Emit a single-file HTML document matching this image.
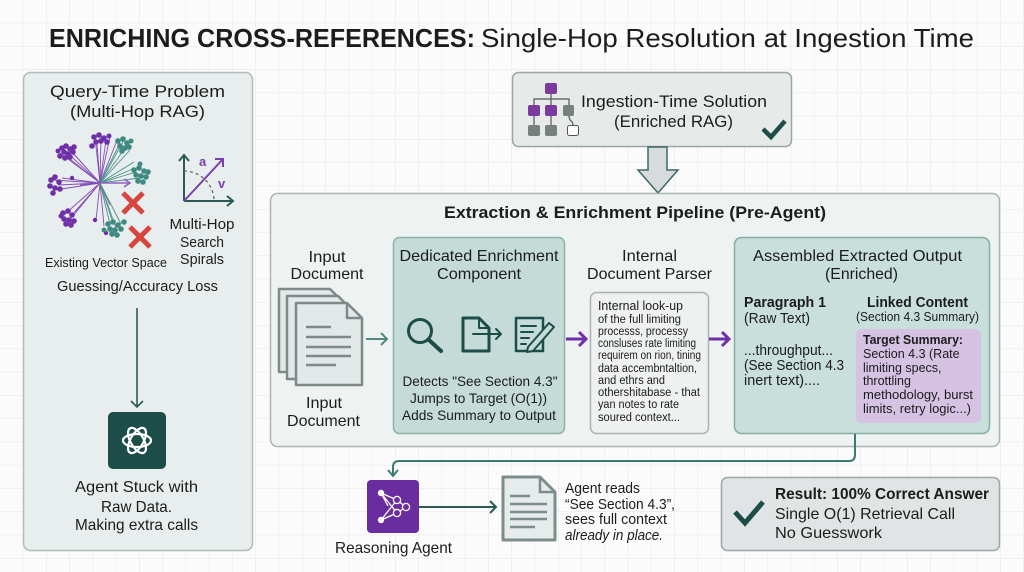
<!DOCTYPE html>
<html><head><meta charset="utf-8"><style>
html,body{margin:0;padding:0;background:#fbfbfb;}
svg{display:block;}
text{font-family:"Liberation Sans",Arial,sans-serif;fill:#1c1c1c;}
</style></head><body>
<svg width="1024" height="572" viewBox="0 0 1024 572" xmlns="http://www.w3.org/2000/svg">
<defs>
<pattern id="grid" width="23.27" height="23.27" patternUnits="userSpaceOnUse">
<path d="M23.27 0 V23.27 M0 23.27 H23.27" fill="none" stroke="#e6e6e6" stroke-width="1"/>
</pattern>
</defs>
<rect width="1024" height="572" fill="#fbfbfb"/>
<rect width="1024" height="572" fill="url(#grid)"/>

<!-- Title -->
<text x="49" y="47" font-size="26" font-weight="bold" textLength="426" lengthAdjust="spacingAndGlyphs">ENRICHING CROSS-REFERENCES:</text>
<text x="481" y="47" font-size="26" textLength="493" lengthAdjust="spacingAndGlyphs">Single-Hop Resolution at Ingestion Time</text>

<!-- LEFT PANEL -->
<rect x="23.5" y="72.5" width="229" height="478" rx="7" fill="#e8eded" stroke="#b3bcbb" stroke-width="1.5"/>
<text x="137.5" y="97" font-size="17" text-anchor="middle" textLength="175" lengthAdjust="spacingAndGlyphs">Query-Time Problem</text>
<text x="137.5" y="117" font-size="17" text-anchor="middle" textLength="135" lengthAdjust="spacingAndGlyphs">(Multi-Hop RAG)</text>

<!-- vector space lines -->
<g stroke-width="0.9" opacity="0.9">
<g stroke="#7a3fb0">
<line x1="100" y1="183" x2="62" y2="148"/><line x1="100" y1="183" x2="70" y2="150"/><line x1="100" y1="183" x2="66" y2="156"/><line x1="100" y1="183" x2="74" y2="154"/><line x1="100" y1="183" x2="60" y2="153"/>
<line x1="100" y1="183" x2="95" y2="137"/><line x1="100" y1="183" x2="101" y2="136"/><line x1="100" y1="183" x2="106" y2="140"/><line x1="100" y1="183" x2="97" y2="144"/><line x1="100" y1="183" x2="110" y2="137"/>
<line x1="100" y1="183" x2="52" y2="180"/><line x1="100" y1="183" x2="58" y2="185"/><line x1="100" y1="183" x2="55" y2="190"/><line x1="100" y1="183" x2="62" y2="178"/>
<line x1="100" y1="183" x2="65" y2="214"/><line x1="100" y1="183" x2="71" y2="216"/><line x1="100" y1="183" x2="68" y2="222"/><line x1="100" y1="183" x2="75" y2="212"/>
<line x1="100" y1="183" x2="110" y2="205"/><line x1="100" y1="183" x2="96" y2="220"/><line x1="100" y1="183" x2="80" y2="185"/>
<line x1="100" y1="183" x2="104" y2="226"/><line x1="100" y1="183" x2="118" y2="138"/>
</g>
<g stroke="#3f8a80">
<line x1="100" y1="183" x2="120" y2="143"/><line x1="100" y1="183" x2="126" y2="147"/><line x1="100" y1="183" x2="124" y2="140"/><line x1="100" y1="183" x2="130" y2="150"/>
<line x1="100" y1="183" x2="136" y2="172"/><line x1="100" y1="183" x2="140" y2="178"/><line x1="100" y1="183" x2="135" y2="168"/><line x1="100" y1="183" x2="134" y2="162"/>
<line x1="100" y1="183" x2="110" y2="224"/><line x1="100" y1="183" x2="116" y2="228"/><line x1="100" y1="183" x2="112" y2="220"/><line x1="100" y1="183" x2="121" y2="224"/>
</g>
<line x1="100" y1="183" x2="129" y2="183" stroke="#8a4fc0" stroke-width="1.5"/>
<path d="M124 179 L130 183 L124 187" fill="none" stroke="#8a4fc0" stroke-width="1.5"/>
</g>
<g fill="#6e2fa8">
<circle cx="62" cy="148" r="2.8"/><circle cx="66" cy="146" r="2.8"/><circle cx="70" cy="149" r="2.8"/><circle cx="64" cy="152" r="2.8"/><circle cx="68" cy="154" r="2.8"/><circle cx="73" cy="152" r="2.8"/><circle cx="60" cy="156" r="2.8"/><circle cx="65" cy="158" r="2.8"/><circle cx="70" cy="157" r="2.8"/><circle cx="74" cy="147" r="2.8"/><circle cx="58" cy="151" r="2.5"/>
<circle cx="94" cy="137" r="2.8"/><circle cx="99" cy="135" r="2.8"/><circle cx="104" cy="138" r="2.8"/><circle cx="96" cy="142" r="2.8"/><circle cx="101" cy="141" r="2.8"/><circle cx="107" cy="142" r="2.8"/><circle cx="92" cy="146" r="2.8"/><circle cx="109" cy="136" r="2.5"/>
<circle cx="51" cy="180" r="2.8"/><circle cx="55" cy="177" r="2.8"/><circle cx="59" cy="182" r="2.8"/><circle cx="50" cy="186" r="2.8"/><circle cx="55" cy="188" r="2.8"/><circle cx="60" cy="189" r="2.8"/><circle cx="53" cy="193" r="2.8"/><circle cx="72" cy="178" r="2.2"/>
<circle cx="63" cy="213" r="2.8"/><circle cx="68" cy="211" r="2.8"/><circle cx="72" cy="215" r="2.8"/><circle cx="64" cy="219" r="2.8"/><circle cx="69" cy="220" r="2.8"/><circle cx="74" cy="221" r="2.8"/><circle cx="66" cy="224" r="2.8"/><circle cx="71" cy="225" r="2.8"/><circle cx="61" cy="216" r="2.5"/>
<circle cx="95" cy="220" r="2.2"/><circle cx="106" cy="233" r="2.2"/>
</g>
<g fill="#3f8a80">
<circle cx="118" cy="141" r="2.8"/><circle cx="123" cy="139" r="2.8"/><circle cx="127" cy="143" r="2.8"/><circle cx="120" cy="146" r="2.8"/><circle cx="125" cy="148" r="2.8"/><circle cx="129" cy="147" r="2.8"/><circle cx="122" cy="151" r="2.8"/><circle cx="131" cy="141" r="2.5"/>
<circle cx="134" cy="170" r="2.8"/><circle cx="139" cy="168" r="2.8"/><circle cx="144" cy="171" r="2.8"/><circle cx="136" cy="175" r="2.8"/><circle cx="141" cy="176" r="2.8"/><circle cx="146" cy="177" r="2.8"/><circle cx="138" cy="181" r="2.8"/><circle cx="143" cy="182" r="2.8"/><circle cx="148" cy="172" r="2.8"/><circle cx="140" cy="164" r="2.5"/>
<circle cx="108" cy="224" r="2.8"/><circle cx="113" cy="222" r="2.8"/><circle cx="118" cy="225" r="2.8"/><circle cx="110" cy="229" r="2.8"/><circle cx="115" cy="230" r="2.8"/><circle cx="121" cy="229" r="2.8"/><circle cx="112" cy="234" r="2.8"/><circle cx="117" cy="235" r="2.8"/><circle cx="124" cy="222" r="2.8"/><circle cx="104" cy="230" r="2.5"/>
</g>
<g stroke="#d6463f" stroke-width="5" stroke-linecap="butt">
<path d="M123 193 L143 213 M143 193 L123 213"/>
<path d="M130 227 L150 247 M150 227 L130 247"/>
</g>
<!-- axis -->
<g fill="none" stroke="#2a5a56" stroke-width="2">
<path d="M184 201 V156 M179 161 L184 155 L189 161"/>
<path d="M184 201 H232 M227 196 L233 201 L227 206"/>
<path d="M184 171 A30 30 0 0 1 214 201" stroke-dasharray="3 3" stroke="#666" stroke-width="1.3"/>
</g>
<path d="M184 201 L223 159 M215 159 L223 159 L223 167" fill="none" stroke="#7a3fb0" stroke-width="2"/>
<text x="199" y="166" font-size="13" font-weight="bold" style="fill:#7a3fb0">a</text>
<text x="218" y="188" font-size="13" font-weight="bold" style="fill:#7a3fb0">v</text>

<text x="106" y="267" font-size="12.5" text-anchor="middle" textLength="122" lengthAdjust="spacingAndGlyphs">Existing Vector Space</text>
<text x="202" y="229" font-size="15" text-anchor="middle" textLength="65" lengthAdjust="spacingAndGlyphs">Multi-Hop</text>
<text x="202" y="247" font-size="15" text-anchor="middle" textLength="44" lengthAdjust="spacingAndGlyphs">Search</text>
<text x="202" y="264" font-size="15" text-anchor="middle" textLength="44" lengthAdjust="spacingAndGlyphs">Spirals</text>
<text x="137.5" y="291" font-size="15" text-anchor="middle" textLength="161" lengthAdjust="spacingAndGlyphs">Guessing/Accuracy Loss</text>

<path d="M137 308 V407 M131 401 L137 407 L143 401" fill="none" stroke="#2a5a56" stroke-width="1.6"/>
<rect x="108" y="412" width="58" height="57" rx="5" fill="#1d4d48"/>
<g fill="none" stroke="#ffffff" stroke-width="2.2">
<ellipse cx="137" cy="440.5" rx="14" ry="6.5"/>
<ellipse cx="137" cy="440.5" rx="14" ry="6.5" transform="rotate(60 137 440.5)"/>
<ellipse cx="137" cy="440.5" rx="14" ry="6.5" transform="rotate(120 137 440.5)"/>
</g>
<text x="136.5" y="492" font-size="16" text-anchor="middle" textLength="123" lengthAdjust="spacingAndGlyphs">Agent Stuck with</text>
<text x="136.5" y="512" font-size="16" text-anchor="middle" textLength="71" lengthAdjust="spacingAndGlyphs">Raw Data.</text>
<text x="136.5" y="530" font-size="16" text-anchor="middle" textLength="123" lengthAdjust="spacingAndGlyphs">Making extra calls</text>

<!-- INGESTION BOX -->
<rect x="512.5" y="72.5" width="279" height="74" rx="6" fill="#e6ebea" stroke="#9aa5a4" stroke-width="1.5"/>
<g stroke="#555" stroke-width="1.2" fill="none">
<path d="M551 93 V99 M534 105 V99 H569 V105 M551 99 V105"/>
<path d="M534 116 V125 M551 116 V125 M569 116 C569 122 573 120 573 125"/>
</g>
<rect x="545" y="83" width="12" height="11" rx="2" fill="#7a3a9e"/>
<rect x="528" y="105" width="12" height="11" rx="2" fill="#7a3a9e"/>
<rect x="545" y="105" width="12" height="11" rx="2" fill="#7a3a9e"/>
<rect x="563" y="105" width="11" height="11" rx="2" fill="#75807f"/>
<rect x="528" y="125" width="12" height="11" rx="2" fill="#75807f"/>
<rect x="545" y="125" width="12" height="11" rx="2" fill="#75807f"/>
<rect x="567.5" y="125.5" width="11" height="10" rx="2" fill="#fff" stroke="#555"/>
<text x="674" y="107" font-size="17" text-anchor="middle" textLength="186" lengthAdjust="spacingAndGlyphs">Ingestion-Time Solution</text>
<text x="673.5" y="127" font-size="17" text-anchor="middle" textLength="119" lengthAdjust="spacingAndGlyphs">(Enriched RAG)</text>
<path d="M763 129 L771 137 L785 121" fill="none" stroke="#1d4d48" stroke-width="4.5"/>
<!-- big arrow -->
<path d="M648 147 H667 V170 H678 L658 193 L638 170 H648 Z" fill="#d6dbdb" stroke="#3b6864" stroke-width="1.5"/>

<!-- PIPELINE -->
<rect x="270.5" y="193.5" width="729" height="253" rx="7" fill="#eef2f1" stroke="#a9b6b4" stroke-width="1.5"/>
<text x="635" y="218" font-size="17" font-weight="bold" text-anchor="middle" textLength="382" lengthAdjust="spacingAndGlyphs">Extraction &amp; Enrichment Pipeline (Pre-Agent)</text>

<text x="327" y="262" font-size="16" text-anchor="middle" textLength="37" lengthAdjust="spacingAndGlyphs">Input</text>
<text x="327" y="279" font-size="16" text-anchor="middle" textLength="73" lengthAdjust="spacingAndGlyphs">Document</text>
<!-- docs stack -->
<g stroke="#7d8a89" stroke-width="2.5" fill="#e3e8e8" stroke-linejoin="round">
<path d="M279 289 H330 L343 302 V372 H279 Z"/>
<path d="M287 296 H338 L352 310 V379 H287 Z"/>
<path d="M296 303 H347 L362 318 V385 H296 Z"/>
<path d="M347 303 V318 H362" fill="none"/>
</g>
<g stroke="#7d8a89" stroke-width="2.5">
<line x1="306" y1="327" x2="331" y2="327"/><line x1="306" y1="337" x2="351" y2="337"/><line x1="306" y1="347" x2="351" y2="347"/><line x1="306" y1="356" x2="351" y2="356"/><line x1="306" y1="365" x2="336" y2="365"/>
</g>
<text x="324" y="408" font-size="16" text-anchor="middle" textLength="36" lengthAdjust="spacingAndGlyphs">Input</text>
<text x="323.5" y="426" font-size="16" text-anchor="middle" textLength="73" lengthAdjust="spacingAndGlyphs">Document</text>
<path d="M366 339 H387 M381 333 L387 339 L381 345" fill="none" stroke="#4f8a82" stroke-width="2"/>

<!-- Enrichment box -->
<rect x="393.5" y="237.5" width="171" height="196" rx="6" fill="#c4dbd7" stroke="#8cb0aa" stroke-width="1.5"/>
<text x="479" y="261" font-size="16" text-anchor="middle" textLength="159" lengthAdjust="spacingAndGlyphs">Dedicated Enrichment</text>
<text x="479" y="279" font-size="16" text-anchor="middle" textLength="84" lengthAdjust="spacingAndGlyphs">Component</text>
<g fill="none" stroke="#1d4d48" stroke-width="3" stroke-linejoin="round" stroke-linecap="round">
<circle cx="420" cy="331" r="11.5"/>
<line x1="429" y1="340" x2="441" y2="351" stroke-width="4"/>
<path d="M463 318 H479 L489 328 V351 H463 Z"/>
<path d="M479 318 V328 H489" stroke-width="2"/>
<path d="M473 334 H501 M496 329 L501 334 L496 339" stroke-width="2"/>
<path d="M516 318 H543 V351 H516 Z" stroke-width="2.5"/>
<path d="M521 326 H536 M521 332 H533 M521 338 H529 M521 344 H526" stroke-width="2"/>
<path d="M528 347 L549 323 L554 327 L533 351 L527 352 Z" stroke-width="2" fill="#c4dbd7"/>
</g>
<text x="480" y="386" font-size="14" text-anchor="middle" textLength="155" lengthAdjust="spacingAndGlyphs">Detects "See Section 4.3"</text>
<text x="478.5" y="403" font-size="14" text-anchor="middle" textLength="137" lengthAdjust="spacingAndGlyphs">Jumps to Target (O(1))</text>
<text x="479" y="420" font-size="14" text-anchor="middle" textLength="154" lengthAdjust="spacingAndGlyphs">Adds Summary to Output</text>

<path d="M566 339 H585 M579 332 L586 339 L579 346" fill="none" stroke="#6e2fa8" stroke-width="3"/>

<!-- Parser -->
<text x="649.5" y="261" font-size="16" text-anchor="middle" textLength="55" lengthAdjust="spacingAndGlyphs">Internal</text>
<text x="649.5" y="279" font-size="16" text-anchor="middle" textLength="125" lengthAdjust="spacingAndGlyphs">Document Parser</text>
<rect x="590.5" y="292.5" width="118" height="141" rx="6" fill="#eef1f0" stroke="#a9b4b2" stroke-width="1.5"/>
<g font-size="11.5">
<text x="598" y="310" font-size="12.5" textLength="85" lengthAdjust="spacingAndGlyphs">Internal look-up</text>
<text x="598" y="323" textLength="83" lengthAdjust="spacingAndGlyphs">of the full limiting</text>
<text x="598" y="335" textLength="90" lengthAdjust="spacingAndGlyphs">processs, processy</text>
<text x="598" y="347" textLength="98" lengthAdjust="spacingAndGlyphs">consluses rate limiting</text>
<text x="598" y="359" textLength="103" lengthAdjust="spacingAndGlyphs">requirem on rion, tining</text>
<text x="598" y="372" textLength="99" lengthAdjust="spacingAndGlyphs">data accembntaltion,</text>
<text x="598" y="384" textLength="67" lengthAdjust="spacingAndGlyphs">and ethrs and</text>
<text x="598" y="396" textLength="102" lengthAdjust="spacingAndGlyphs">othershitabase - that</text>
<text x="598" y="408" textLength="81" lengthAdjust="spacingAndGlyphs">yan notes to rate</text>
<text x="598" y="421" textLength="82" lengthAdjust="spacingAndGlyphs">soured context...</text>
</g>
<path d="M709 339 H728 M722 332 L729 339 L722 346" fill="none" stroke="#6e2fa8" stroke-width="3"/>

<!-- Assembled -->
<rect x="734.5" y="237.5" width="255" height="196" rx="7" fill="#c8dfdb" stroke="#86aca6" stroke-width="1.5"/>
<text x="857.5" y="261" font-size="16" text-anchor="middle" textLength="209" lengthAdjust="spacingAndGlyphs">Assembled Extracted Output</text>
<text x="861.5" y="279" font-size="16" text-anchor="middle" textLength="73" lengthAdjust="spacingAndGlyphs">(Enriched)</text>
<text x="744" y="307" font-size="14.5" font-weight="bold" textLength="82" lengthAdjust="spacingAndGlyphs">Paragraph 1</text>
<text x="744" y="323" font-size="14.5" textLength="66" lengthAdjust="spacingAndGlyphs">(Raw Text)</text>
<text x="917.5" y="307" font-size="14.5" font-weight="bold" text-anchor="middle" textLength="101" lengthAdjust="spacingAndGlyphs">Linked Content</text>
<text x="917.5" y="321" font-size="12.5" text-anchor="middle" textLength="123" lengthAdjust="spacingAndGlyphs">(Section 4.3 Summary)</text>
<text x="744" y="355" font-size="14.5" textLength="89" lengthAdjust="spacingAndGlyphs">...throughput...</text>
<text x="744" y="370" font-size="14.5" textLength="100" lengthAdjust="spacingAndGlyphs">(See Section 4.3</text>
<text x="744" y="385" font-size="14.5" textLength="76" lengthAdjust="spacingAndGlyphs">inert text)....</text>
<rect x="856" y="329" width="125" height="94" rx="5" fill="#d6c2e3"/>
<g font-size="12.5">
<text x="863" y="344" font-weight="bold" textLength="100" lengthAdjust="spacingAndGlyphs">Target Summary:</text>
<text x="863" y="358">Section 4.3 (Rate</text>
<text x="863" y="372">limiting specs,</text>
<text x="863" y="385">throttling</text>
<text x="863" y="399" textLength="110" lengthAdjust="spacingAndGlyphs">methodology, burst</text>
<text x="863" y="413" textLength="108" lengthAdjust="spacingAndGlyphs">limits, retry logic...)</text>
</g>

<!-- connector -->
<path d="M855 434 V455 Q855 461 849 461 H399 Q393 461 393 467 V475 M388 470 L393 476 L398 470" fill="none" stroke="#3d7a74" stroke-width="2"/>

<!-- Reasoning agent -->
<rect x="367" y="480" width="52" height="53" rx="4" fill="#6a2d9f"/>
<g stroke="#fff" stroke-width="1.3" fill="none">
<path d="M381 493 L397 500 M381 493 L397 513 M381 520 L397 500 M381 520 L397 513 M397 500 L406 507 M397 513 L406 507 M381 493 L388 506"/>
<circle cx="397" cy="500" r="3.6" fill="#6a2d9f"/><circle cx="397" cy="513" r="3.6" fill="#6a2d9f"/><circle cx="406" cy="507" r="3.6" fill="#6a2d9f"/>
</g>
<circle cx="381" cy="493" r="3.2" fill="#fff"/><circle cx="381" cy="520" r="3.2" fill="#fff"/>
<text x="393.5" y="553" font-size="16" text-anchor="middle" textLength="117" lengthAdjust="spacingAndGlyphs">Reasoning Agent</text>
<path d="M419 507 H496 M490 501 L496 507 L490 513" fill="none" stroke="#2a5a56" stroke-width="2"/>
<!-- doc icon -->
<path d="M503 477 H540 L555 492 V540 H503 Z" fill="#e6ebeb" stroke="#7e8c8c" stroke-width="3" stroke-linejoin="round"/>
<path d="M540 477 V492 H555" fill="none" stroke="#7e8c8c" stroke-width="2.5"/>
<g stroke="#7e8c8c" stroke-width="2.5">
<line x1="510" y1="496" x2="530" y2="496"/><line x1="510" y1="504" x2="547" y2="504"/><line x1="510" y1="512" x2="547" y2="512"/><line x1="510" y1="519" x2="547" y2="519"/><line x1="510" y1="527" x2="535" y2="527"/>
</g>
<text x="565" y="493" font-size="15" textLength="75" lengthAdjust="spacingAndGlyphs">Agent reads</text>
<text x="565" y="509" font-size="15" textLength="110" lengthAdjust="spacingAndGlyphs">“See Section 4.3”,</text>
<text x="565" y="524" font-size="15" textLength="102" lengthAdjust="spacingAndGlyphs">sees full context</text>
<text x="565" y="540" font-size="15" font-style="italic" textLength="98" lengthAdjust="spacingAndGlyphs">already in place.</text>

<!-- Result -->
<rect x="721.5" y="477.5" width="278" height="73" rx="6" fill="#e1e4e4" stroke="#9ca6a6" stroke-width="1.5"/>
<path d="M735 512 L745 523 L763 502" fill="none" stroke="#1d4d48" stroke-width="5"/>
<text x="775" y="499" font-size="16" font-weight="bold" textLength="214" lengthAdjust="spacingAndGlyphs">Result: 100% Correct Answer</text>
<text x="775" y="519" font-size="16" textLength="180" lengthAdjust="spacingAndGlyphs">Single O(1) Retrieval Call</text>
<text x="775" y="538" font-size="16" textLength="107" lengthAdjust="spacingAndGlyphs">No Guesswork</text>
</svg>
</body></html>
